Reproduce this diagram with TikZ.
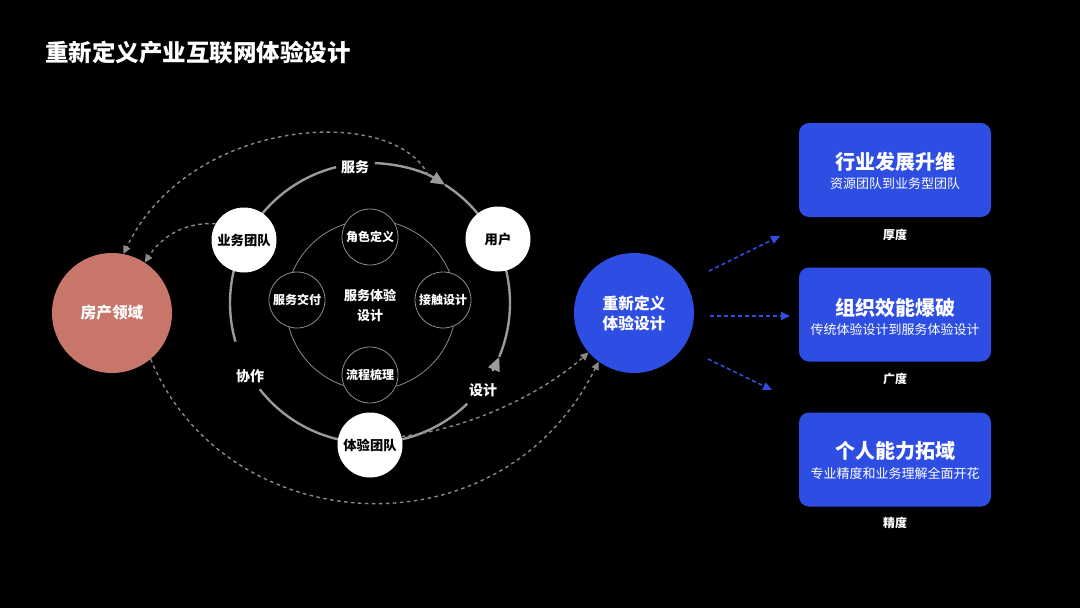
\documentclass[tikz,border=0pt]{standalone}
\usepackage{fontspec}
\setmainfont{Noto Sans CJK SC}
\usetikzlibrary{arrows.meta,calc}
\definecolor{ringgray}{HTML}{9A9A9A}
\definecolor{thingray}{HTML}{8C8C8C}
\definecolor{dashgray}{HTML}{8A8A8A}
\definecolor{royal}{HTML}{2E4DE3}
\definecolor{salmon}{HTML}{C8756A}
\begin{document}
\begin{tikzpicture}[x=1pt,y=-1pt,
 ring/.style={draw=ringgray, line width=2.4pt},
 ringtip/.style={ring, -{Triangle[length=14pt,width=12pt]}},
 flow/.style={draw=dashgray, line width=1.4pt, dash pattern=on 3.5pt off 3.5pt, -{Triangle[length=8pt,width=7.5pt]}},
 bflow/.style={draw=royal, line width=1.6pt, dash pattern=on 4pt off 3pt, -{Triangle[length=9pt,width=8pt]}},
 whitenode/.style={circle, fill=white, minimum size=65pt, inner sep=0pt, text=black, font=\bfseries\fontsize{13.3}{16}\selectfont},
 petal/.style={circle, draw=thingray, line width=0.8pt, fill=black, minimum size=56pt, inner sep=0pt, text=white, font=\bfseries\fontsize{12}{14}\selectfont},
 ringlabel/.style={text=white, inner sep=1pt, font=\bfseries\fontsize{14}{16}\selectfont},
 bigcirc/.style={circle, minimum size=120pt, inner sep=0pt, text=white, align=center, font=\bfseries\fontsize{15.7}{20}\selectfont},
 card/.style={rounded corners=10pt, fill=royal, minimum width=192pt, minimum height=94pt, inner sep=0pt},
 cardtitle/.style={text=white, inner sep=0pt, font=\bfseries\fontsize{20}{24}\selectfont},
 cardsub/.style={text=white, inner sep=0pt, font=\fontsize{13}{16}\selectfont},
 cardnote/.style={text=white, inner sep=0pt, font=\bfseries\fontsize{12}{14}\selectfont}
]
\fill[black] (0,0) rectangle (1080,608);
\useasboundingbox (0,0) rectangle (1080,608);

% title
\node[anchor=west, text=white, inner sep=0pt, font=\bfseries\fontsize{23.5}{28}\selectfont] (title) at (45,53) {重新定义产业互联网体验设计};

% ring centre
\coordinate (C) at (370,303);

% inner circle and petals
\draw[draw=thingray, line width=0.8pt] (371,305) circle[radius=85];
\node[petal] (p1) at (370,237) {角色定义};
\node[petal] (p2) at (297,300) {服务交付};
\node[petal] (p3) at (443,300) {接触设计};
\node[petal] (p4) at (370,375) {流程梳理};
\node[text=white, align=center, inner sep=0pt, font=\bfseries\fontsize{13}{20}\selectfont] (core) at (370,305) {服务体验\\设计};

% outer ring arcs
\draw[ring] ($(C)+(-153.4:140)$) arc[start angle=-153.4, end angle=-104, radius=140];
\draw[ringtip] ($(C)+(-88:140)$) arc[start angle=-88, end angle=-57.6, radius=140];
\draw[ring] ($(C)+(-57.6:140)$) arc[start angle=-57.6, end angle=-26.6, radius=140];
\draw[ring] ($(C)+(-153.4:140)$) arc[start angle=-153.4, end angle=-196, radius=140];
\draw[ring] ($(C)+(-218:140)$) arc[start angle=-218, end angle=-270, radius=140];
\draw[ring] ($(C)+(90:140)$) arc[start angle=90, end angle=46, radius=140];
\draw[ringtip] ($(C)+(29:140)$) arc[start angle=29, end angle=22.6, radius=140];
\draw[ring] ($(C)+(22.6:140)$) arc[start angle=22.6, end angle=-26.6, radius=140];

% ring labels
\node[ringlabel] (lserve) at (355,167) {服务};
\node[ringlabel] (lcoop) at (250,376) {协作};
\node[ringlabel] (ldesign) at (483,390) {设计};

% white nodes
\node[whitenode] (biz) at (244,240) {业务团队};
\node[whitenode] (user) at (498,239) {用户};
\node[whitenode] (xt) at (370,445) {体验团队};

% big circles
\node[bigcirc, fill=salmon] (fc) at (112,313) {房产领域};
\node[bigcirc, fill=royal] (rd) at (634,313) {重新定义\\体验设计};

% grey dashed flows
\coordinate (arrTop) at (428,175);
\draw[flow] (arrTop) .. controls (395,105) and (190,115) .. (fc.79);
\draw[flow] (biz.150) .. controls (185,222) and (162,236) .. (fc.57);
\draw[flow] (fc.-50) .. controls (225,540) and (500,560) .. (rd.234);
\draw[flow] (xt.15) .. controls (470,428) and (540,395) .. (rd.221);

% cards
\node[card] (c1) at (895,170) {};
\node[card] (c2) at (895,314.5) {};
\node[card] (c3) at (895,459.5) {};
\node[cardtitle] (c1t) at ($(c1.center)+(0,-8)$) {行业发展升维};
\node[cardsub] (c1s) at ($(c1.center)+(0,14)$) {资源团队到业务型团队};
\node[cardtitle] (c2t) at ($(c2.center)+(0,-7)$) {组织效能爆破};
\node[cardsub] (c2s) at ($(c2.center)+(0,15)$) {传统体验设计到服务体验设计};
\node[cardtitle] (c3t) at ($(c3.center)+(0,-9)$) {个人能力拓域};
\node[cardsub] (c3s) at ($(c3.center)+(0,14)$) {专业精度和业务理解全面开花};
\node[cardnote] (n1) at (895,235) {厚度};
\node[cardnote] (n2) at (895,379) {广度};
\node[cardnote] (n3) at (895,523) {精度};

% blue dashed flows
\coordinate (b1s) at (709,271);
\coordinate (b1e) at (780,236);
\coordinate (b2s) at (710,316);
\coordinate (b2e) at (790,316);
\coordinate (b3s) at (708,359);
\coordinate (b3e) at (772,390);
\draw[bflow] (b1s) -- (b1e);
\draw[bflow] (b2s) -- (b2e);
\draw[bflow] (b3s) -- (b3e);
\end{tikzpicture}
\end{document}
